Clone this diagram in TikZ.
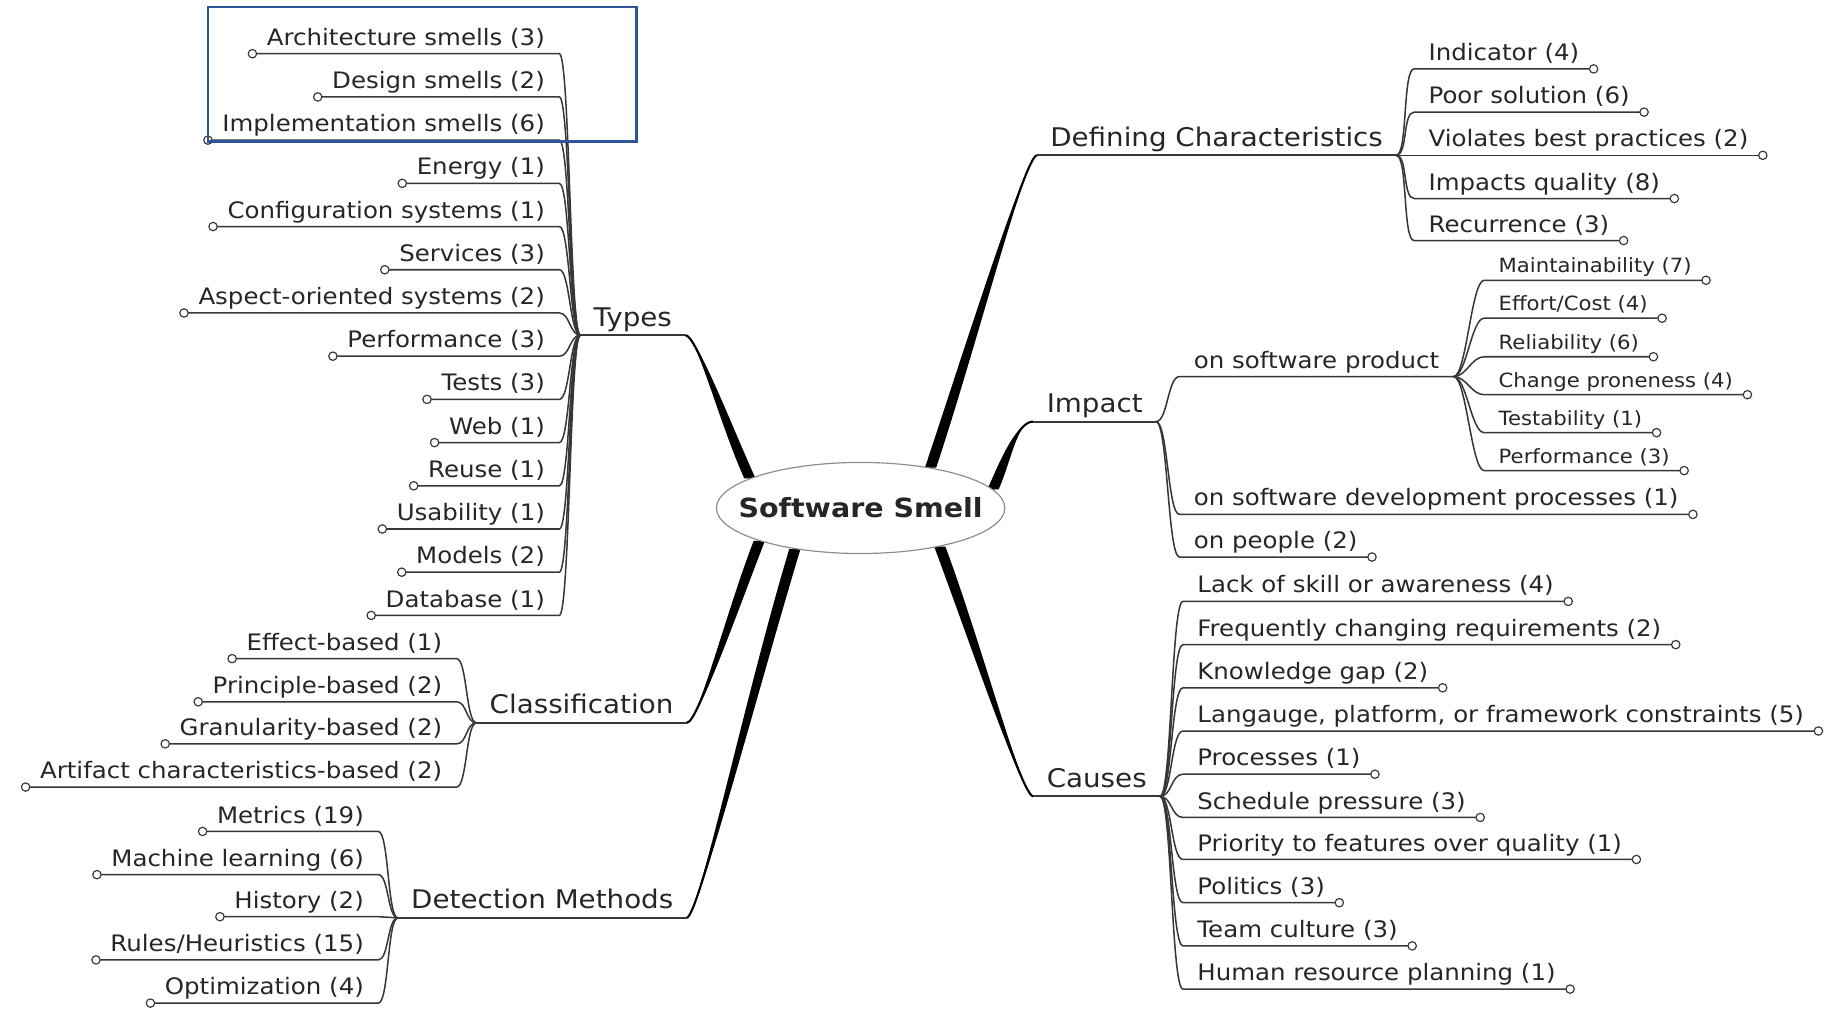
\documentclass[tikz,border=0pt]{standalone}
\usepackage{fontspec}
\setmainfont{DejaVu Sans}[FakeStretch=1.08]
\usetikzlibrary{calc,shapes.geometric,backgrounds}
\definecolor{boxblue}{RGB}{47,85,151}
\definecolor{linegray}{RGB}{55,55,55}

% tapered main branch: thin end, its control, control at thick end, thick end
\newcommand\trunk[4]{%
  \fill[black] (#1) .. controls +(#2) and ($(#4)+(#3)+(-4.8,0)$) .. ($(#4)+(-4.8,0)$)
    -- ($(#4)+(4.8,0)$) .. controls ($(#4)+(#3)+(4.8,0)$) and +(#2) .. (#1) -- cycle;
  \draw[line width=0.9pt] (#1) .. controls +(#2) and ($(#4)+(#3)$) .. (#4);}

\begin{document}
\begin{tikzpicture}[x=0.5pt,y=-0.5pt,
  every node/.style={text=black!85},
  leaf/.style={font=\fontsize{9.7}{11}\selectfont,text height=7.3pt,text depth=3pt,inner xsep=6pt,inner ysep=0.4pt},
  lleaf/.style={leaf,anchor=south east},
  rleaf/.style={leaf,anchor=south west},
  subleaf/.style={rleaf,font=\fontsize{8.4}{10}\selectfont,text height=6.3pt,text depth=2.6pt},
  cat/.style={font=\fontsize{11}{13}\selectfont,text height=8.3pt,text depth=3.3pt,inner xsep=5.5pt,inner ysep=0.4pt},
  root/.style={ellipse,draw=black!45,fill=white,line width=0.5pt,minimum width=123.5pt,minimum height=39pt,
    inner xsep=-12pt,inner ysep=0pt,font=\bfseries\fontsize{11.3}{13}\selectfont},
  link/.style={draw=linegray,line width=0.65pt},
  bar/.style={draw=linegray,line width=0.85pt},
  tip/.style={circle,draw=linegray,fill=white,line width=0.5pt,minimum size=3.6pt,inner sep=0pt}]

\useasboundingbox (0,0) rectangle (1568,864);

\node[root] (smell) at (737,435) {Software Smell};

% main topics
\node[cat,anchor=south west] (types) at (497,287) {Types};
\node[cat,anchor=south east] (cls) at (588,619) {Classification};
\node[cat,anchor=south east] (det) at (588,786) {Detection Methods};
\node[cat,anchor=south west] (dc) at (888,133) {Defining Characteristics};
\node[cat,anchor=south west] (impact) at (885,361) {Impact};
\node[cat,anchor=south west] (causes) at (885,682) {Causes};

% types
\node[lleaf] (t1) at (479,46) {Architecture smells (3)};
\node[lleaf] (t2) at (479,83) {Design smells (2)};
\node[lleaf] (t3) at (479,120) {Implementation smells (6)};
\node[lleaf] (t4) at (479,157) {Energy (1)};
\node[lleaf] (t5) at (479,194) {Configuration systems (1)};
\node[lleaf] (t6) at (479,231) {Services (3)};
\node[lleaf] (t7) at (479,268) {Aspect-oriented systems (2)};
\node[lleaf] (t8) at (479,305) {Performance (3)};
\node[lleaf] (t9) at (479,342) {Tests (3)};
\node[lleaf] (t10) at (479,379) {Web (1)};
\node[lleaf] (t11) at (479,416) {Reuse (1)};
\node[lleaf] (t12) at (479,453) {Usability (1)};
\node[lleaf] (t13) at (479,490) {Models (2)};
\node[lleaf] (t14) at (479,527) {Database (1)};

% classification
\node[lleaf] (c1) at (391,564) {Effect-based (1)};
\node[lleaf] (c2) at (391,601) {Principle-based (2)};
\node[lleaf] (c3) at (391,637) {Granularity-based (2)};
\node[lleaf] (c4) at (391,674) {Artifact characteristics-based (2)};

% detection methods
\node[lleaf] (d1) at (324,712) {Metrics (19)};
\node[lleaf] (d2) at (324,749) {Machine learning (6)};
\node[lleaf] (d3) at (324,785) {History (2)};
\node[lleaf] (d4) at (324,822) {Rules/Heuristics (15)};
\node[lleaf] (d5) at (324,859) {Optimization (4)};

% defining characteristics
\node[rleaf] (f1) at (1211,59) {Indicator (4)};
\node[rleaf] (f2) at (1211,96) {Poor solution (6)};
\node[rleaf] (f3) at (1211,133) {Violates best practices (2)};
\node[rleaf] (f4) at (1211,170) {Impacts quality (8)};
\node[rleaf] (f5) at (1211,206) {Recurrence (3)};

% impact
\node[rleaf] (osp) at (1010,322.5) {on software product};
\node[rleaf] (i2) at (1010,440.5) {on software development processes (1)};
\node[rleaf] (i3) at (1010,477) {on people (2)};
\node[subleaf] (p1) at (1271,240) {Maintainability (7)};
\node[subleaf] (p2) at (1271,272.5) {Effort/Cost (4)};
\node[subleaf] (p3) at (1271,305.5) {Reliability (6)};
\node[subleaf] (p4) at (1271,338) {Change proneness (4)};
\node[subleaf] (p5) at (1271,370.5) {Testability (1)};
\node[subleaf] (p6) at (1271,403) {Performance (3)};

% causes
\node[rleaf] (k1) at (1013,515) {Lack of skill or awareness (4)};
\node[rleaf] (k2) at (1013,552) {Frequently changing requirements (2)};
\node[rleaf] (k3) at (1013,589) {Knowledge gap (2)};
\node[rleaf] (k4) at (1013,626) {Langauge, platform, or framework constraints (5)};
\node[rleaf] (k5) at (1013,663) {Processes (1)};
\node[rleaf] (k6) at (1013,700) {Schedule pressure (3)};
\node[rleaf] (k7) at (1013,736) {Priority to features over quality (1)};
\node[rleaf] (k8) at (1013,773) {Politics (3)};
\node[rleaf] (k9) at (1013,810) {Team culture (3)};
\node[rleaf] (k10) at (1013,847) {Human resource planning (1)};

\begin{scope}[on background layer]
\trunk{types.south east}{10,0}{-22,-49}{smell.165}
\trunk{cls.south east}{10,0}{-24,62}{smell.198}
\trunk{det.south east}{10,0}{-38,126}{smell.212}
\trunk{dc.south west}{-10,0}{35,-105}{smell.30}
\trunk{impact.south west}{-14,0}{12,-28}{smell.8}
\trunk{causes.south west}{-10,0}{32,86}{smell.334}
\end{scope}

\draw[bar] (types.south west) -- (types.south east);
\draw[bar] (cls.south west) -- (cls.south east);
\draw[bar] (det.south west) -- (det.south east);
\draw[bar] (dc.south west) -- (dc.south east);
\draw[bar] (impact.south west) -- (impact.south east);
\draw[bar] (causes.south west) -- (causes.south east);

\draw[link] (types.south west) .. controls +(-9,0) and +(9,0) .. (t1.south east) -- (t1.south west) node[tip] {};
\draw[link] (types.south west) .. controls +(-9,0) and +(9,0) .. (t2.south east) -- (t2.south west) node[tip] {};
\draw[link] (types.south west) .. controls +(-9,0) and +(9,0) .. (t3.south east) -- (t3.south west) node[tip] {};
\draw[link] (types.south west) .. controls +(-9,0) and +(9,0) .. (t4.south east) -- (t4.south west) node[tip] {};
\draw[link] (types.south west) .. controls +(-9,0) and +(9,0) .. (t5.south east) -- (t5.south west) node[tip] {};
\draw[link] (types.south west) .. controls +(-9,0) and +(9,0) .. (t6.south east) -- (t6.south west) node[tip] {};
\draw[link] (types.south west) .. controls +(-9,0) and +(9,0) .. (t7.south east) -- (t7.south west) node[tip] {};
\draw[link] (types.south west) .. controls +(-9,0) and +(9,0) .. (t8.south east) -- (t8.south west) node[tip] {};
\draw[link] (types.south west) .. controls +(-9,0) and +(9,0) .. (t9.south east) -- (t9.south west) node[tip] {};
\draw[link] (types.south west) .. controls +(-9,0) and +(9,0) .. (t10.south east) -- (t10.south west) node[tip] {};
\draw[link] (types.south west) .. controls +(-9,0) and +(9,0) .. (t11.south east) -- (t11.south west) node[tip] {};
\draw[link] (types.south west) .. controls +(-9,0) and +(9,0) .. (t12.south east) -- (t12.south west) node[tip] {};
\draw[link] (types.south west) .. controls +(-9,0) and +(9,0) .. (t13.south east) -- (t13.south west) node[tip] {};
\draw[link] (types.south west) .. controls +(-9,0) and +(9,0) .. (t14.south east) -- (t14.south west) node[tip] {};

\draw[link] (cls.south west) .. controls +(-9,0) and +(9,0) .. (c1.south east) -- (c1.south west) node[tip] {};
\draw[link] (cls.south west) .. controls +(-9,0) and +(9,0) .. (c2.south east) -- (c2.south west) node[tip] {};
\draw[link] (cls.south west) .. controls +(-9,0) and +(9,0) .. (c3.south east) -- (c3.south west) node[tip] {};
\draw[link] (cls.south west) .. controls +(-9,0) and +(9,0) .. (c4.south east) -- (c4.south west) node[tip] {};

\draw[link] (det.south west) .. controls +(-9,0) and +(9,0) .. (d1.south east) -- (d1.south west) node[tip] {};
\draw[link] (det.south west) .. controls +(-9,0) and +(9,0) .. (d2.south east) -- (d2.south west) node[tip] {};
\draw[link] (det.south west) .. controls +(-9,0) and +(9,0) .. (d3.south east) -- (d3.south west) node[tip] {};
\draw[link] (det.south west) .. controls +(-9,0) and +(9,0) .. (d4.south east) -- (d4.south west) node[tip] {};
\draw[link] (det.south west) .. controls +(-9,0) and +(9,0) .. (d5.south east) -- (d5.south west) node[tip] {};

\draw[link] (dc.south east) .. controls +(10,0) and +(-10,0) .. (f1.south west) -- (f1.south east) node[tip] {};
\draw[link] (dc.south east) .. controls +(10,0) and +(-10,0) .. (f2.south west) -- (f2.south east) node[tip] {};
\draw[link] (dc.south east) .. controls +(10,0) and +(-10,0) .. (f3.south west) -- (f3.south east) node[tip] {};
\draw[link] (dc.south east) .. controls +(10,0) and +(-10,0) .. (f4.south west) -- (f4.south east) node[tip] {};
\draw[link] (dc.south east) .. controls +(10,0) and +(-10,0) .. (f5.south west) -- (f5.south east) node[tip] {};

\draw[link] (impact.south east) .. controls +(10,0) and +(-10,0) .. (osp.south west) -- (osp.south east);
\draw[link] (impact.south east) .. controls +(10,0) and +(-10,0) .. (i2.south west) -- (i2.south east) node[tip] {};
\draw[link] (impact.south east) .. controls +(10,0) and +(-10,0) .. (i3.south west) -- (i3.south east) node[tip] {};
\draw[link] (osp.south east) .. controls +(11,0) and +(-11,0) .. (p1.south west) -- (p1.south east) node[tip] {};
\draw[link] (osp.south east) .. controls +(11,0) and +(-11,0) .. (p2.south west) -- (p2.south east) node[tip] {};
\draw[link] (osp.south east) .. controls +(11,0) and +(-11,0) .. (p3.south west) -- (p3.south east) node[tip] {};
\draw[link] (osp.south east) .. controls +(11,0) and +(-11,0) .. (p4.south west) -- (p4.south east) node[tip] {};
\draw[link] (osp.south east) .. controls +(11,0) and +(-11,0) .. (p5.south west) -- (p5.south east) node[tip] {};
\draw[link] (osp.south east) .. controls +(11,0) and +(-11,0) .. (p6.south west) -- (p6.south east) node[tip] {};

\draw[link] (causes.south east) .. controls +(10,0) and +(-10,0) .. (k1.south west) -- (k1.south east) node[tip] {};
\draw[link] (causes.south east) .. controls +(10,0) and +(-10,0) .. (k2.south west) -- (k2.south east) node[tip] {};
\draw[link] (causes.south east) .. controls +(10,0) and +(-10,0) .. (k3.south west) -- (k3.south east) node[tip] {};
\draw[link] (causes.south east) .. controls +(10,0) and +(-10,0) .. (k4.south west) -- (k4.south east) node[tip] {};
\draw[link] (causes.south east) .. controls +(10,0) and +(-10,0) .. (k5.south west) -- (k5.south east) node[tip] {};
\draw[link] (causes.south east) .. controls +(10,0) and +(-10,0) .. (k6.south west) -- (k6.south east) node[tip] {};
\draw[link] (causes.south east) .. controls +(10,0) and +(-10,0) .. (k7.south west) -- (k7.south east) node[tip] {};
\draw[link] (causes.south east) .. controls +(10,0) and +(-10,0) .. (k8.south west) -- (k8.south east) node[tip] {};
\draw[link] (causes.south east) .. controls +(10,0) and +(-10,0) .. (k9.south west) -- (k9.south east) node[tip] {};
\draw[link] (causes.south east) .. controls +(10,0) and +(-10,0) .. (k10.south west) -- (k10.south east) node[tip] {};

% highlight box
\draw[boxblue,line width=1.1pt] (178,6) rectangle (545,121);

\end{tikzpicture}
\end{document}
